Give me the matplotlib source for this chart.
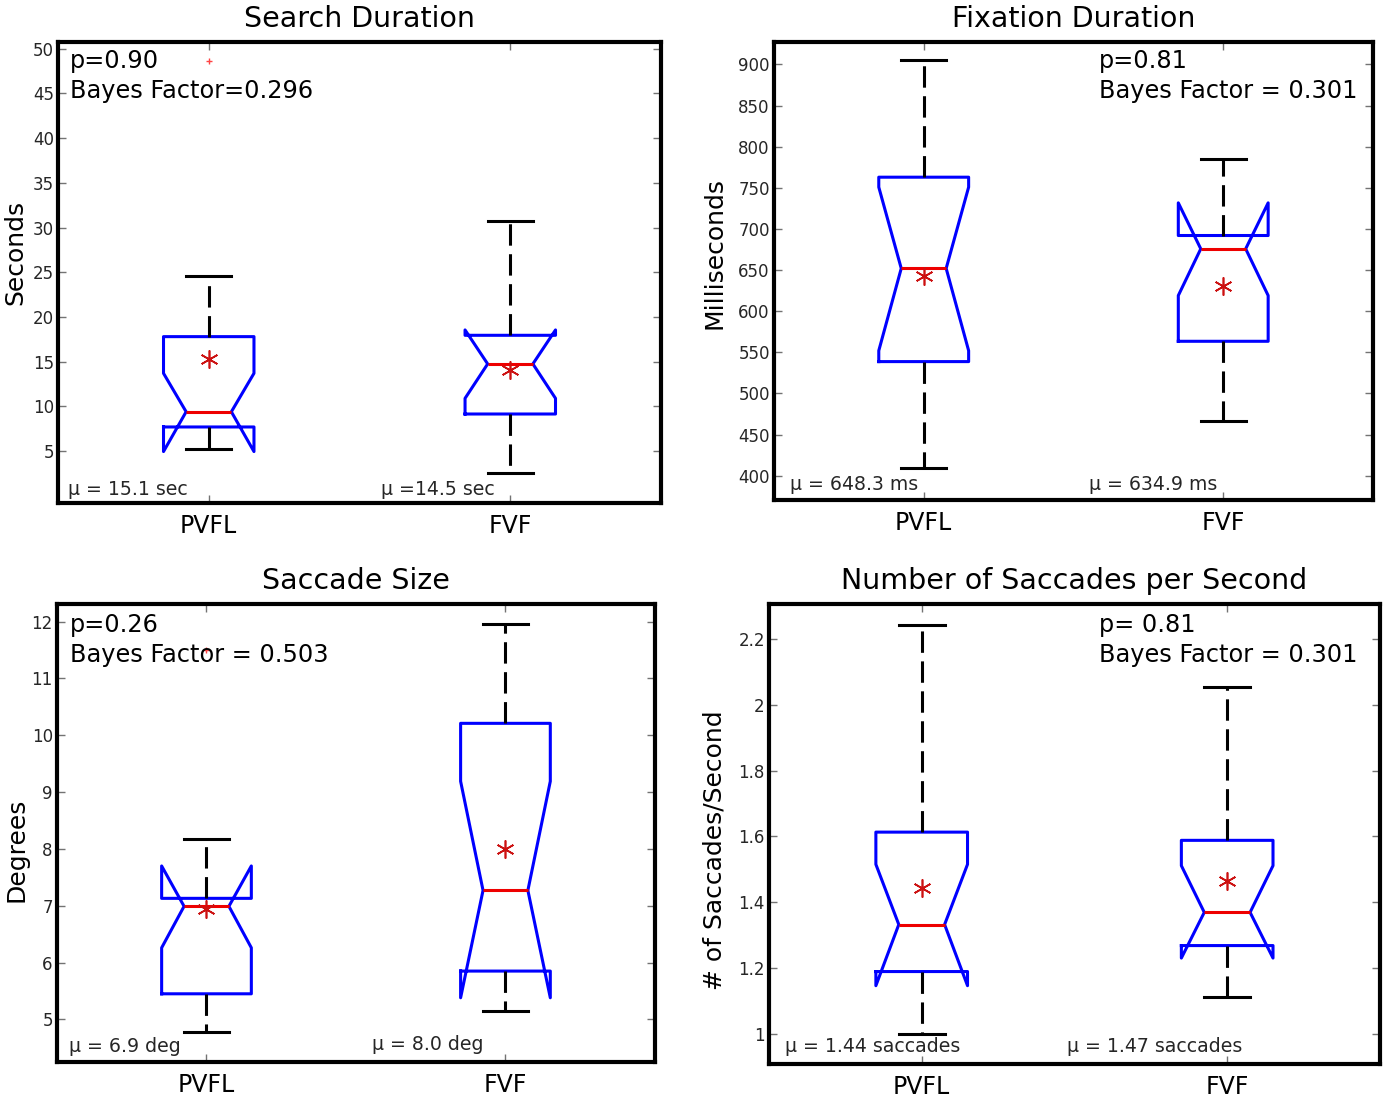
import matplotlib
matplotlib.use('Agg')
import matplotlib.pyplot as plt

plt.rcParams['font.family'] = ['DejaVu Sans']

groups = ['PVFL', 'FVF']

# per panel: [PVFL, FVF] stats
search_q1 = [7.7, 9.15]
search_med = [9.4, 14.75]
search_q3 = [17.8, 17.95]
search_cilo = [4.95, 10.9]
search_cihi = [13.7, 18.55]
search_lo = [5.2, 2.6]
search_hi = [24.6, 30.7]
search_mean = [15.25, 14.1]
search_fliers = [[48.6], []]

fix_q1 = [538.7, 563.4]
fix_med = [652.0, 675.8]
fix_q3 = [762.9, 692.0]
fix_cilo = [552.0, 619.0]
fix_cihi = [750.8, 731.7]
fix_lo = [409.0, 466.0]
fix_hi = [905.0, 784.5]
fix_mean = [643.3, 631.1]

sac_q1 = [5.45, 5.85]
sac_med = [6.99, 7.27]
sac_q3 = [7.13, 10.21]
sac_cilo = [6.26, 5.38]
sac_cihi = [7.70, 9.19]
sac_lo = [4.78, 5.14]
sac_hi = [8.18, 11.96]
sac_mean = [6.95, 7.99]
sac_fliers = [[11.5], []]

rate_q1 = [1.189, 1.268]
rate_med = [1.332, 1.369]
rate_q3 = [1.613, 1.588]
rate_cilo = [1.146, 1.230]
rate_cihi = [1.515, 1.511]
rate_lo = [1.0, 1.112]
rate_hi = [2.243, 2.053]
rate_mean = [1.442, 1.463]


def make_stats(q1, med, q3, cilo, cihi, lo, hi, mean, fliers=None):
    out = []
    for i in range(len(groups)):
        out.append(dict(label=groups[i], q1=q1[i], med=med[i], q3=q3[i],
                        cilo=cilo[i], cihi=cihi[i], whislo=lo[i], whishi=hi[i],
                        mean=mean[i], fliers=fliers[i] if fliers else []))
    return out


def panel(rect, stats, title, ylabel, ylim, yticks, yticklabels, ylab_pos,
          ptxt, ptxt_x, ptxt_y, mu_txt, mu_x, mu_y):
    ax = fig.add_axes(rect)
    ax.bxp(stats, positions=[1, 2], widths=0.3, shownotches=True, showmeans=True,
           boxprops=dict(color='#0000ff', lw=2.2),
           medianprops=dict(color='#ee0000', lw=2.2),
           whiskerprops=dict(color='black', lw=2.2, linestyle=(0, (7, 2.8))),
           capprops=dict(color='black', lw=2.2),
           flierprops=dict(marker='+', markeredgecolor='#ff4444', markersize=5, mew=1),
           meanprops=dict(marker=(6, 2, 0), markeredgecolor='#cc1111',
                          markerfacecolor='#cc1111', markersize=13, mew=1.2))
    ax.set_xlim(0.5, 2.5)
    ax.set_ylim(*ylim)
    ax.set_yticks(yticks)
    ax.set_yticklabels(yticklabels)
    ax.set_xticks([1, 2])
    ax.set_xticklabels(groups, fontsize=17)
    ax.tick_params(axis='y', direction='in', right=True, length=6, width=1,
                   color='0.45', labelsize=12, labelcolor='0.15', pad=3)
    ax.tick_params(axis='x', direction='in', top=True, length=6, width=1,
                   color='0.45', pad=8)
    for s in ax.spines.values():
        s.set_linewidth(3)
    ax.set_title(title, fontsize=20.5, pad=11)
    ax.set_ylabel(ylabel, fontsize=18)
    ax.yaxis.set_label_coords(*ylab_pos)
    ax.text(ptxt_x, ptxt_y[0], ptxt[0], transform=ax.transAxes, fontsize=17.3,
            va='center', ha='left')
    ax.text(ptxt_x, ptxt_y[1], ptxt[1], transform=ax.transAxes, fontsize=17.3,
            va='center', ha='left')
    for t, x, y in zip(mu_txt, mu_x, mu_y):
        ax.text(x, y, t, transform=ax.transAxes, fontsize=13.6, va='center',
                ha='left', color='0.15')
    return ax


fig = plt.figure(figsize=(13.87, 10.98), dpi=100)

panel([0.0418, 0.5419, 0.4348, 0.4199],
      make_stats(search_q1, search_med, search_q3, search_cilo, search_cihi,
                 search_lo, search_hi, search_mean, search_fliers),
      'Search Duration', 'Seconds', (-0.8, 50.75), list(range(5, 51, 5)),
      [str(v) for v in range(5, 51, 5)], (-0.05, 0.544),
      ['p=0.90', 'Bayes Factor=0.296'], 0.02, (0.959, 0.894),
      ['μ = 15.1 sec', 'μ =14.5 sec'], [0.0166, 0.5357], [0.030, 0.030])

panel([0.558, 0.5446, 0.4319, 0.4171],
      make_stats(fix_q1, fix_med, fix_q3, fix_cilo, fix_cihi,
                 fix_lo, fix_hi, fix_mean),
      'Fixation Duration', 'Milliseconds', (370.4, 927.2), list(range(400, 901, 50)),
      [str(v) for v in range(400, 901, 50)], (-0.08, 0.539),
      ['p=0.81', 'Bayes Factor = 0.301'], 0.5426, (0.9585, 0.893),
      ['μ = 648.3 ms', 'μ = 634.9 ms'], [0.0267, 0.526], [0.033, 0.033])

panel([0.0411, 0.0328, 0.4311, 0.4171],
      make_stats(sac_q1, sac_med, sac_q3, sac_cilo, sac_cihi,
                 sac_lo, sac_hi, sac_mean, sac_fliers),
      'Saccade Size', 'Degrees', (4.25, 12.31), list(range(5, 13)),
      [str(v) for v in range(5, 13)], (-0.048, 0.463),
      ['p=0.26', 'Bayes Factor = 0.503'], 0.0217, (0.954, 0.889),
      ['μ = 6.9 deg', 'μ = 8.0 deg'], [0.020, 0.527], [0.033, 0.039])

panel([0.5544, 0.031, 0.4405, 0.419],
      make_stats(rate_q1, rate_med, rate_q3, rate_cilo, rate_cihi,
                 rate_lo, rate_hi, rate_mean),
      'Number of Saccades per Second', '# of Saccades/Second', (0.908, 2.307),
      [1, 1.2, 1.4, 1.6, 1.8, 2, 2.2], ['1', '1.2', '1.4', '1.6', '1.8', '2', '2.2'],
      (-0.07, 0.465),
      ['p= 0.81', 'Bayes Factor = 0.301'], 0.540, (0.954, 0.889),
      ['μ = 1.44 saccades', 'μ = 1.47 saccades'], [0.026, 0.488], [0.039, 0.039])

fig.savefig('out.png', dpi=100, facecolor='white')
